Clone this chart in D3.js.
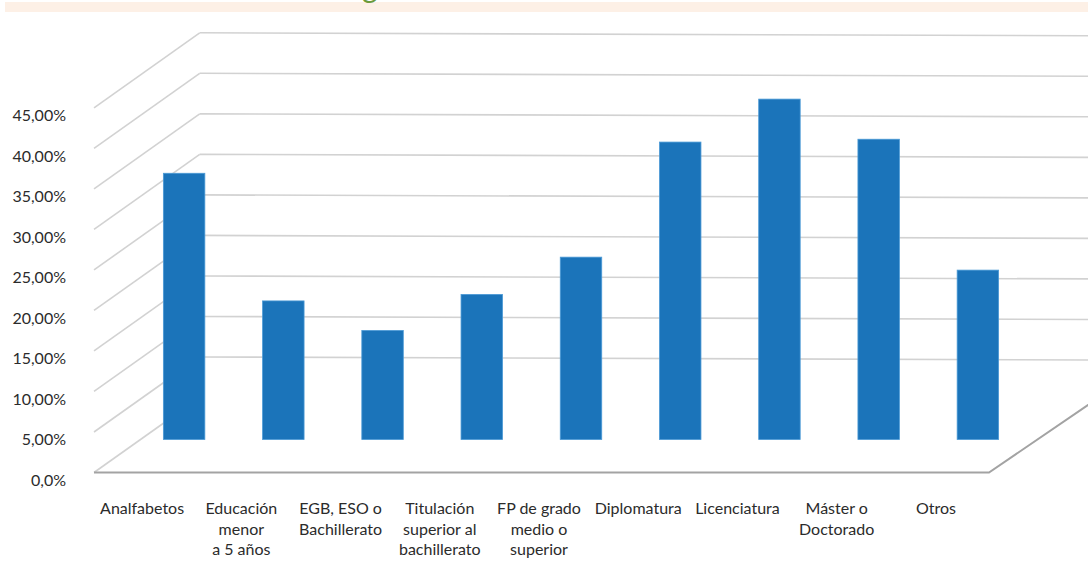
<!DOCTYPE html>
<html>
<head>
<meta charset="utf-8">
<script src="https://cdn.jsdelivr.net/npm/d3@7"></script>
<style>
  html, body { margin: 0; padding: 0; background: #fff; }
  svg { display: block; }
  text { font-family: Lato, "Open Sans", sans-serif; fill: #2b2b2b; }
</style>
</head>
<body>
<div id="chart"></div>
<script>
// Data
const categories = [
    ["Analfabetos"],
    ["Educación", "menor", "a 5 años"],
    ["EGB, ESO o", "Bachillerato"],
    ["Titulación", "superior al", "bachillerato"],
    ["FP de grado", "medio o", "superior"],
    ["Diplomatura"],
    ["Licenciatura"],
    ["Máster o", "Doctorado"],
    ["Otros"]
];
const values = [32.85, 17.1, 13.45, 17.9, 22.5, 36.7, 42.0, 37.05, 20.9];
const tickValues = [0, 5, 10, 15, 20, 25, 30, 35, 40, 45];
const tickLabels = ["0,0%", "5,00%", "10,00%", "15,00%", "20,00%", "25,00%", "30,00%", "35,00%", "40,00%", "45,00%"];

const width = 1088, height = 564;

const svg = d3.select("#chart").append("svg")
    .attr("width", width)
    .attr("height", height);

// Top band of the page (title is cut off above the window)
svg.append("rect")
    .attr("x", 5).attr("y", 2)
    .attr("width", width - 5).attr("height", 10)
    .attr("fill", "#fdf0e6");
svg.append("text")
    .attr("x", 362).attr("y", -2)
    .style("font-size", "30px")
    .style("fill", "#6b9b3c")
    .text("g");

// Oblique 3D frame: depth goes up and to the right
const depthDx = 105.7, depthDy = -75;
const barDepth = 0.44;          // bars sit a bit in front of middle
const frontLeft = 94, frontRight = 989;

// value scale on the front plane
const y = d3.scaleLinear().domain([0, 45]).range([472.5, 107.8]);

// category scale on the bar plane
const x = d3.scaleBand()
    .domain(d3.range(categories.length))
    .range([134.5, 1027.5])
    .paddingInner(0.582)
    .paddingOuter(0.291);

const backSlope = 3; // back wall lines drop slightly to the right

// back wall gridlines
svg.append("g").selectAll("line")
    .data(tickValues.filter(v => v > 0))
    .join("line")
    .attr("x1", frontLeft + depthDx)
    .attr("y1", d => y(d) + depthDy)
    .attr("x2", frontRight + depthDx)
    .attr("y2", d => y(d) + depthDy + backSlope)
    .attr("stroke", "#d2d2d2")
    .attr("stroke-width", 1.6);

// side wall gridlines (incl. floor left edge)
svg.append("g").selectAll("line")
    .data(tickValues)
    .join("line")
    .attr("x1", frontLeft)
    .attr("y1", d => y(d))
    .attr("x2", frontLeft + depthDx)
    .attr("y2", d => y(d) + depthDy)
    .attr("stroke", "#d2d2d2")
    .attr("stroke-width", 1.6);

// floor: front and right edges
svg.append("path")
    .attr("d", d3.line()([
        [frontLeft, y(0)],
        [frontRight, y(0)],
        [frontRight + depthDx, y(0) + depthDy + backSlope]
    ]))
    .attr("fill", "none")
    .attr("stroke", "#a3a3a3")
    .attr("stroke-width", 2);

// bars
const barBase = y(0) + depthDy * barDepth;
const barScale = v => y(v) + depthDy * barDepth;

svg.append("g").selectAll("rect")
    .data(values)
    .join("rect")
    .attr("x", (d, i) => x(i))
    .attr("y", d => barScale(d))
    .attr("width", x.bandwidth())
    .attr("height", d => barBase - barScale(d))
    .attr("fill", "#1b74ba")
    .attr("stroke", "#4b9ad6")
    .attr("stroke-width", 0.8);

// y tick labels
svg.append("g").selectAll("text")
    .data(tickValues)
    .join("text")
    .attr("x", 66)
    .attr("y", d => y(d) + 13.5)
    .attr("text-anchor", "end")
    .style("font-size", "16px")
    .text((d, i) => tickLabels[i]);

// category labels, at the front edge of the floor
const labels = svg.append("g").selectAll("text")
    .data(categories)
    .join("text")
    .attr("x", (d, i) => x(i) + x.bandwidth() / 2 - 42)
    .attr("y", 514)
    .attr("text-anchor", "middle")
    .style("font-size", "16px");

labels.selectAll("tspan")
    .data((d, i) => d.map(t => ({ t, i })))
    .join("tspan")
    .attr("x", d => x(d.i) + x.bandwidth() / 2 - 42)
    .attr("dy", (d, j) => j === 0 ? 0 : 20.5)
    .text(d => d.t);
</script>
</body>
</html>
